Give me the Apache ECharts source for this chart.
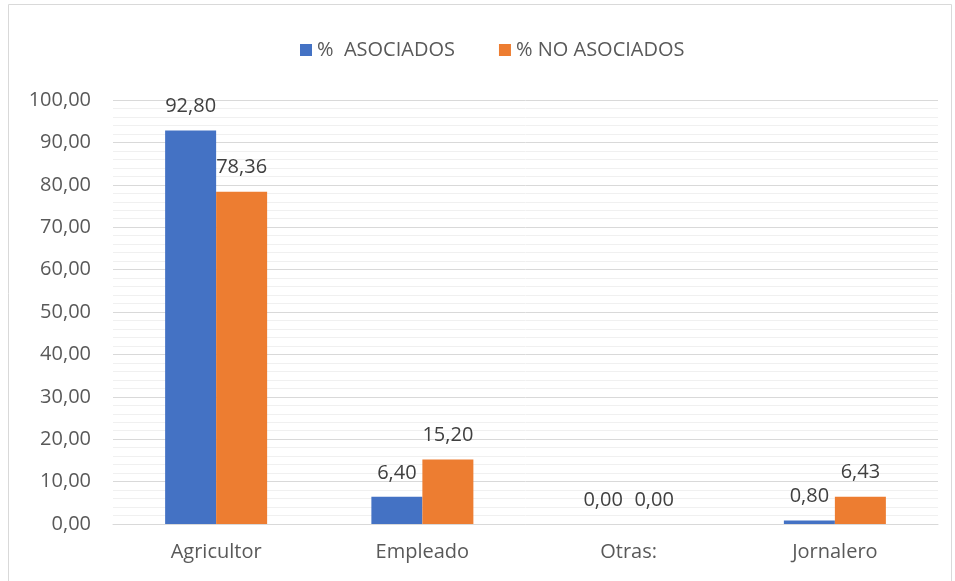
<!DOCTYPE html>
<html>
<head>
<meta charset="utf-8">
<script src="https://cdn.jsdelivr.net/npm/echarts@6/dist/echarts.min.js"></script>
<style>
  html, body { margin: 0; padding: 0; background: #fff; }
  #chart { width: 955px; height: 581px; }
</style>
</head>
<body>
<div id="chart"></div>
<script>
const categories = ["Agricultor", "Empleado", "Otras:", "Jornalero"];
const asociados = [92.80, 6.40, 0.00, 0.80];
const noAsociados = [78.36, 15.20, 0.00, 6.43];

const fmt = v => Number(v).toFixed(2).replace(".", ",");
const textColor = "#595959";
const font = "'Open Sans', 'Liberation Sans', sans-serif";

const chart = echarts.init(document.getElementById("chart"));

chart.setOption({
  animation: false,
  textStyle: { fontFamily: font },
  graphic: [{
    type: "rect",
    shape: { x: 8.5, y: 4.5, width: 943, height: 580 },
    style: { fill: "none", stroke: "#d9d9d9", lineWidth: 1 },
    silent: true
  }],
  legend: {
    top: 35,
    left: 295,
    itemWidth: 12,
    itemHeight: 12,
    itemGap: 44,
    icon: "rect",
    textStyle: { color: textColor, fontSize: 20, fontFamily: font }
  },
  grid: { left: 113, right: 17, top: 100, bottom: 57, containLabel: false },
  xAxis: {
    type: "category",
    data: categories,
    axisLine: { lineStyle: { color: "#d9d9d9", width: 1 } },
    axisTick: { show: false },
    axisLabel: { color: textColor, fontSize: 20, margin: 18, fontFamily: font }
  },
  yAxis: {
    type: "value",
    min: 0,
    max: 100,
    interval: 10,
    axisLine: { show: false },
    axisTick: { show: false },
    axisLabel: { color: textColor, fontSize: 20, margin: 22, formatter: v => fmt(v), fontFamily: font },
    splitLine: { lineStyle: { color: "#d9d9d9", width: 1 } },
    minorTick: { show: false, splitNumber: 5 },
    minorSplitLine: { show: true, lineStyle: { color: "#f0f0f0", width: 1 } }
  },
  series: [
    {
      name: "%  ASOCIADOS",
      type: "bar",
      data: asociados,
      barWidth: 51,
      barGap: "0%",
      itemStyle: { color: "#4472C4" },
      label: { show: true, position: "top", distance: 14, color: "#404040", fontSize: 20, formatter: p => fmt(p.value), fontFamily: font }
    },
    {
      name: "% NO ASOCIADOS",
      type: "bar",
      data: noAsociados,
      barWidth: 51,
      itemStyle: { color: "#ED7D31" },
      label: { show: true, position: "top", distance: 14, color: "#404040", fontSize: 20, formatter: p => fmt(p.value), fontFamily: font }
    }
  ]
});
</script>
</body>
</html>
